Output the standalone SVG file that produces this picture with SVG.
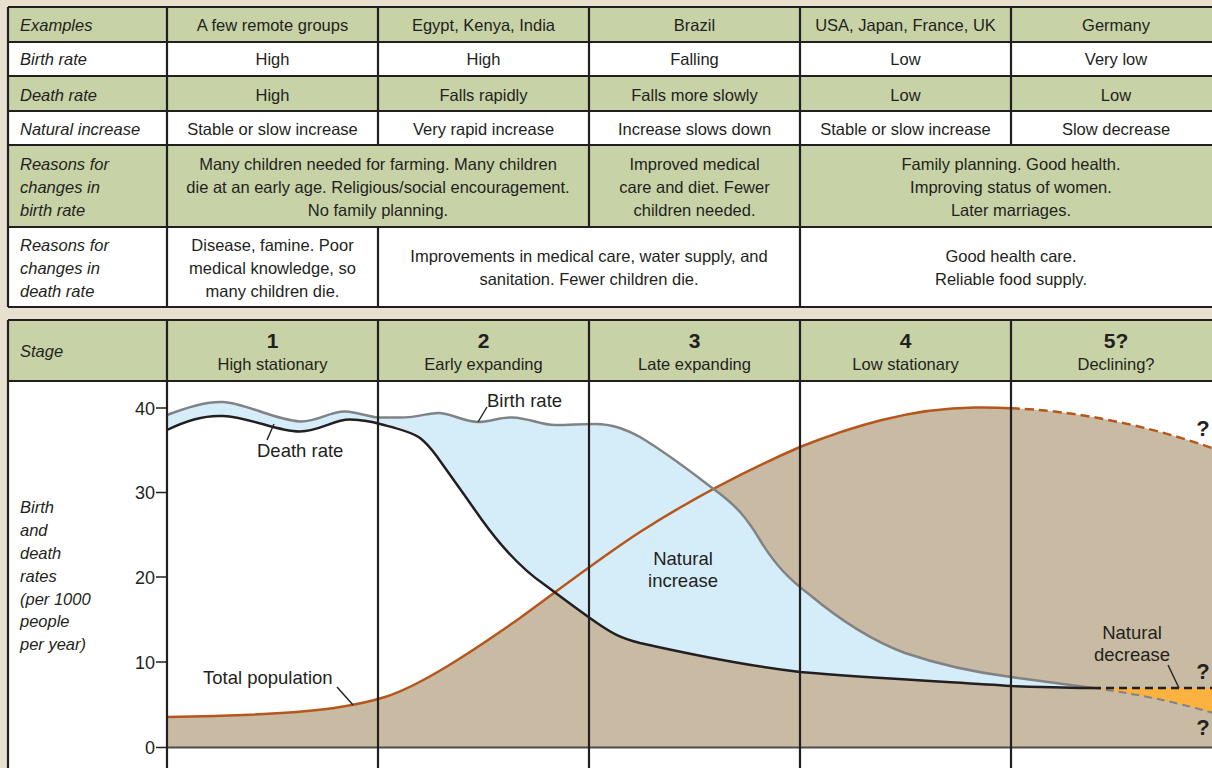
<svg xmlns="http://www.w3.org/2000/svg" width="1212" height="768" viewBox="0 0 1212 768">
<style>
.t{font-family:"Liberation Sans",Arial,sans-serif;font-size:16.5px;fill:#231f20}
.c{text-anchor:middle}
.i{font-style:italic}
.num{font-weight:bold;font-size:21px}
.lab{font-size:18.5px}
.tick{font-size:18px;text-anchor:end}
.q{font-weight:bold;font-size:22px;text-anchor:middle}
.g{fill:#c8d2a7}
.w{fill:#ffffff}
.ln{stroke:#231f20;stroke-width:2.2;fill:none}
.ld{stroke:#231f20;stroke-width:1.4;fill:none}
</style>
<rect x="0" y="0" width="1212" height="768" fill="#e7e0cf"/>

<!-- Table -->
<g id="table">
  <rect class="g" x="8" y="7" width="1214" height="35"/>
  <rect class="w" x="8" y="42" width="1214" height="34"/>
  <rect class="g" x="8" y="76" width="1214" height="35"/>
  <rect class="w" x="8" y="111" width="1214" height="34"/>
  <rect class="g" x="8" y="145" width="1214" height="82"/>
  <rect class="w" x="8" y="227" width="1214" height="80"/>
  <path class="ln" d="M8,7H1222M8,42H1222M8,76H1222M8,111H1222M8,145H1222M8,227H1222M8,307H1222
    M8,7V307M167,7V307M378,7V145M378,227V307M589,7V227M800,7V307M1011,7V145"/>
</g>
<g id="row-examples">
  <text class="t i" x="20" y="31">Examples</text>
  <text class="t c" x="272.5" y="31">A few remote groups</text>
  <text class="t c" x="483.5" y="31">Egypt, Kenya, India</text>
  <text class="t c" x="694.5" y="31">Brazil</text>
  <text class="t c" x="905.5" y="31">USA, Japan, France, UK</text>
  <text class="t c" x="1116" y="31">Germany</text>
</g>
<g id="row-birth">
  <text class="t i" x="20" y="65">Birth rate</text>
  <text class="t c" x="272.5" y="65">High</text>
  <text class="t c" x="483.5" y="65">High</text>
  <text class="t c" x="694.5" y="65">Falling</text>
  <text class="t c" x="905.5" y="65">Low</text>
  <text class="t c" x="1116" y="65">Very low</text>
</g>
<g id="row-death">
  <text class="t i" x="20" y="100.5">Death rate</text>
  <text class="t c" x="272.5" y="100.5">High</text>
  <text class="t c" x="483.5" y="100.5">Falls rapidly</text>
  <text class="t c" x="694.5" y="100.5">Falls more slowly</text>
  <text class="t c" x="905.5" y="100.5">Low</text>
  <text class="t c" x="1116" y="100.5">Low</text>
</g>
<g id="row-natural">
  <text class="t i" x="20" y="134.5">Natural increase</text>
  <text class="t c" x="272.5" y="134.5">Stable or slow increase</text>
  <text class="t c" x="483.5" y="134.5">Very rapid increase</text>
  <text class="t c" x="694.5" y="134.5">Increase slows down</text>
  <text class="t c" x="905.5" y="134.5">Stable or slow increase</text>
  <text class="t c" x="1116" y="134.5">Slow decrease</text>
</g>
<g id="row-reasons-birth">
  <text class="t i" x="20" y="170">Reasons for</text>
  <text class="t i" x="20" y="193">changes in</text>
  <text class="t i" x="20" y="216">birth rate</text>
  <text class="t c" x="378" y="170">Many children needed for farming. Many children</text>
  <text class="t c" x="378" y="193">die at an early age. Religious/social encouragement.</text>
  <text class="t c" x="378" y="216">No family planning.</text>
  <text class="t c" x="694.5" y="170">Improved medical</text>
  <text class="t c" x="694.5" y="193">care and diet. Fewer</text>
  <text class="t c" x="694.5" y="216">children needed.</text>
  <text class="t c" x="1011" y="170">Family planning. Good health.</text>
  <text class="t c" x="1011" y="193">Improving status of women.</text>
  <text class="t c" x="1011" y="216">Later marriages.</text>
</g>
<g id="row-reasons-death">
  <text class="t i" x="20" y="251">Reasons for</text>
  <text class="t i" x="20" y="274">changes in</text>
  <text class="t i" x="20" y="297">death rate</text>
  <text class="t c" x="272.5" y="251">Disease, famine. Poor</text>
  <text class="t c" x="272.5" y="274">medical knowledge, so</text>
  <text class="t c" x="272.5" y="297">many children die.</text>
  <text class="t c" x="589" y="262">Improvements in medical care, water supply, and</text>
  <text class="t c" x="589" y="285">sanitation. Fewer children die.</text>
  <text class="t c" x="1011" y="262">Good health care.</text>
  <text class="t c" x="1011" y="285">Reliable food supply.</text>
</g>

<!-- Chart panel -->
<g id="panel">
  <rect class="w" x="8" y="320" width="1214" height="460"/>
  <rect class="g" x="8" y="320" width="1214" height="61"/>
</g>
<g id="areas">
  <path id="population-area" fill="#c9bba3" d="M167,747.5 L167,717 C230,716 300,714 340,707 C360,704 372,701 385,697 C420,686 470,653 520,618 C560,589 600,558 640,532 C690,500 740,473 800,447 C850,427 910,408 975,407.5 C990,407.3 1000,407.6 1011,408.3 C1070,410 1150,425 1220,451 L1220,747.5 Z"/>
  <path id="natural-increase-area" fill="#d5ecf9" d="M167,415 C185,408 205,401 223,402 C245,403 275,420 300,421.5 C318,422 330,411 345,411.5 C358,412 368,417 378,417.5 L400,417.5 C420,417.5 430,412 440,413 C452,414 465,422 478,422 C490,422 500,417 512,417.5 C530,418 540,425 555,425 C570,425 580,424 595,424 C612,424 625,429 640,437 C670,455 695,475 715,490 C735,505 745,515 760,540 C775,565 790,580 810,595 C840,620 870,640 905,653 C940,665 980,673 1011,677 C1040,681 1070,685 1093,688 C1070,688 1040,687 1011,686 C950,682 870,678 800,672 C740,665 680,652 640,643 C620,638 612,633 600,625 C585,615 565,600 545,585 C520,568 500,545 482,520 C468,500 450,475 438,458 C432,450 428,444 420,438 C410,431 395,428 380,424 C370,421 362,420 350,419.5 C335,419 320,431 300,431.5 C278,432 250,417 223,416 C205,415 185,421 167,430 Z"/>
  <path id="natural-decrease-area" fill="#fbb241" d="M1100,688 L1220,688 L1220,715 C1170,700 1130,693 1100,688.5 Z"/>
</g>
<g id="axis">
  <path d="M167,747.5H1222" stroke="#4d4d4d" stroke-width="2" fill="none"/>
  <path class="ld" d="M156,408H167M156,492.5H167M156,577H167M156,662H167M156,747.5H167"/>
  <text class="t tick" x="155" y="414.5">40</text>
  <text class="t tick" x="155" y="499">30</text>
  <text class="t tick" x="155" y="583.5">20</text>
  <text class="t tick" x="155" y="668.5">10</text>
  <text class="t tick" x="155" y="754">0</text>
  <text class="t i" x="20" y="513">Birth</text>
  <text class="t i" x="20" y="536">and</text>
  <text class="t i" x="20" y="559">death</text>
  <text class="t i" x="20" y="582">rates</text>
  <text class="t i" x="20" y="605">(per 1000</text>
  <text class="t i" x="20" y="627">people</text>
  <text class="t i" x="20" y="650">per year)</text>
</g>
<g id="connectors">
  <path id="population-line" d="M167,717 C230,716 300,714 340,707 C360,704 372,701 385,697 C420,686 470,653 520,618 C560,589 600,558 640,532 C690,500 740,473 800,447 C850,427 910,408 975,407.5 C990,407.3 1000,407.6 1011,408.3" stroke="#b5561c" stroke-width="2.5" fill="none"/>
  <path id="population-dashed" d="M1011,408.3 C1070,410 1150,425 1220,451" stroke="#b5561c" stroke-width="2.5" fill="none" stroke-dasharray="9 5"/>
  <path id="birth-line" d="M167,415 C185,408 205,401 223,402 C245,403 275,420 300,421.5 C318,422 330,411 345,411.5 C358,412 368,417 378,417.5 L400,417.5 C420,417.5 430,412 440,413 C452,414 465,422 478,422 C490,422 500,417 512,417.5 C530,418 540,425 555,425 C570,425 580,424 595,424 C612,424 625,429 640,437 C670,455 695,475 715,490 C735,505 745,515 760,540 C775,565 790,580 810,595 C840,620 870,640 905,653 C940,665 980,673 1011,677 C1040,681 1070,685 1093,688" stroke="#808285" stroke-width="2.5" fill="none"/>
  <path id="birth-dashed" d="M1093,688 C1130,693 1170,700 1220,715" stroke="#808285" stroke-width="2" fill="none" stroke-dasharray="8 5"/>
  <path id="death-line" d="M167,430 C185,421 205,415 223,416 C250,417 278,432 300,431.5 C320,431 335,419 350,419.5 C362,420 370,421 380,424 C395,428 410,431 420,438 C428,444 432,450 438,458 C450,475 468,500 482,520 C500,545 520,568 545,585 C565,600 585,615 600,625 C612,633 620,638 640,643 C680,652 740,665 800,672 C870,678 950,682 1011,686 C1040,687 1070,688 1093,688" stroke="#231f20" stroke-width="2.5" fill="none"/>
  <path id="death-dashed" d="M1093,688 H1222" stroke="#231f20" stroke-width="2.5" fill="none" stroke-dasharray="8 5"/>
  <path class="ld" d="M487,407 L478,422"/>
  <path class="ld" d="M274,424 L267,440"/>
  <path class="ld" d="M337,687 L353,705"/>
  <path class="ld" d="M1168,665 L1179,688"/>
</g>
<g id="grid">
  <path class="ln" d="M8,320H1222M8,381H1222M8,320V768M167,320V768M378,320V768M589,320V768M800,320V768M1011,320V768"/>
</g>
<g id="stage-header">
  <text class="t i" x="20" y="356.5">Stage</text>
</g>
<g id="stage-1">
  <text class="t c num" x="272.5" y="347.5">1</text>
  <text class="t c" x="272.5" y="369.5">High stationary</text>
</g>
<g id="stage-2">
  <text class="t c num" x="483.5" y="347.5">2</text>
  <text class="t c" x="483.5" y="369.5">Early expanding</text>
</g>
<g id="stage-3">
  <text class="t c num" x="694.5" y="347.5">3</text>
  <text class="t c" x="694.5" y="369.5">Late expanding</text>
</g>
<g id="stage-4">
  <text class="t c num" x="905.5" y="347.5">4</text>
  <text class="t c" x="905.5" y="369.5">Low stationary</text>
</g>
<g id="stage-5">
  <text class="t c num" x="1116" y="347.5">5?</text>
  <text class="t c" x="1116" y="369.5">Declining?</text>
</g>
<g id="labels">
  <text class="t lab" x="487" y="407">Birth rate</text>
  <text class="t lab" x="257" y="456.5">Death rate</text>
  <text class="t lab" x="203" y="683.5">Total population</text>
  <text class="t lab c" x="683" y="564.5">Natural</text>
  <text class="t lab c" x="683" y="587">increase</text>
  <text class="t lab c" x="1132" y="638.5">Natural</text>
  <text class="t lab c" x="1132" y="661">decrease</text>
  <text class="t q" x="1203" y="436">?</text>
  <text class="t q" x="1203" y="679">?</text>
  <text class="t q" x="1203" y="735">?</text>
</g>
</svg>
